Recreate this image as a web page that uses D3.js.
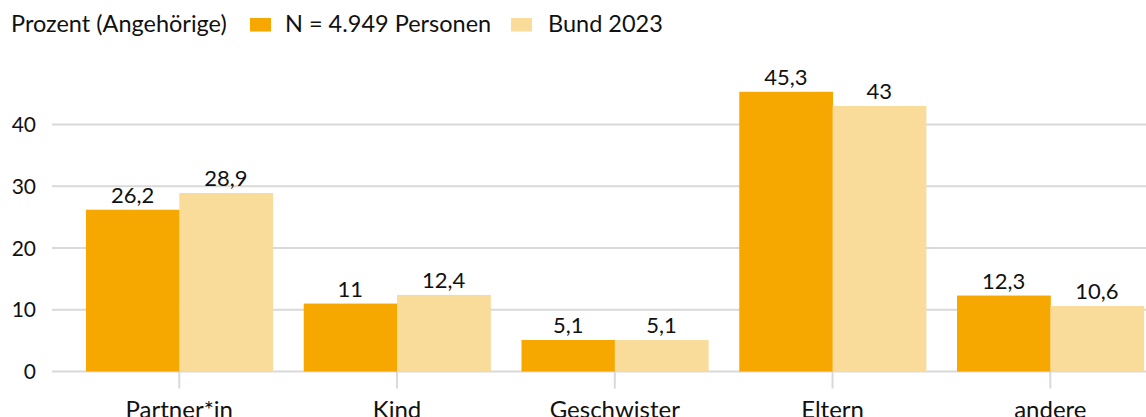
<!DOCTYPE html>
<html>
<head>
<meta charset="utf-8">
<script src="https://cdn.jsdelivr.net/npm/d3@7"></script>
<style>
  body { margin: 0; background: #fff; }
  svg { display: block; font-family: Lato, "Open Sans", sans-serif; }
</style>
</head>
<body>
<div id="container"></div>
<script>
const width = 1146;
const height = 417;

const categories = ["Partner*in", "Kind", "Geschwister", "Eltern", "andere"];
const seriesNames = ["N = 4.949 Personen", "Bund 2023"];
const sample = [26.2, 11, 5.1, 45.3, 12.3];
const bund = [28.9, 12.4, 5.1, 43, 10.6];
const yTicks = [0, 10, 20, 30, 40];
const colors = ["#f7a800", "#f9db9a"];

const svg = d3.select("#container").append("svg")
    .attr("width", width)
    .attr("height", height);

// the plot runs past the right edge, like in the original
const x = d3.scaleBand()
    .domain(categories)
    .range([70.4, 1159.2])
    .paddingInner(0.143)
    .paddingOuter(0.0715);

const xs = d3.scaleBand()
    .domain([0, 1])
    .range([0, x.bandwidth()]);

const y = d3.scaleLinear()
    .domain([0, 40])
    .range([371.5, 124.5]);

// gridlines
svg.append("g")
    .selectAll("line")
    .data(yTicks)
    .join("line")
    .attr("x1", 52)
    .attr("x2", width)
    .attr("y1", d => y(d))
    .attr("y2", d => y(d))
    .attr("stroke", "#d9d9d9")
    .attr("stroke-width", 2);

// y labels
svg.append("g")
    .selectAll("text")
    .data(yTicks)
    .join("text")
    .attr("x", 36)
    .attr("y", d => y(d))
    .attr("dy", "0.36em")
    .attr("text-anchor", "end")
    .attr("font-size", 21)
    .attr("fill", "#111")
    .text(d => d);

// category tick marks
svg.append("g")
    .selectAll("line")
    .data(categories)
    .join("line")
    .attr("x1", d => x(d) + x.bandwidth() / 2)
    .attr("x2", d => x(d) + x.bandwidth() / 2)
    .attr("y1", y(0))
    .attr("y2", y(0) + 17)
    .attr("stroke", "#d9d9d9")
    .attr("stroke-width", 2);

// category labels (cut off at the bottom edge, as in the original)
svg.append("g")
    .selectAll("text")
    .data(categories)
    .join("text")
    .attr("x", d => x(d) + x.bandwidth() / 2)
    .attr("y", 418)
    .attr("text-anchor", "middle")
    .attr("font-size", 24)
    .attr("fill", "#111")
    .text(d => d);

const rows = categories.map((c, i) => ({ cat: c, values: [sample[i], bund[i]] }));

const groups = svg.append("g")
    .selectAll("g")
    .data(rows)
    .join("g")
    .attr("transform", d => `translate(${x(d.cat)},0)`);

groups.selectAll("rect")
    .data(d => d.values.map((v, k) => ({ v, k })))
    .join("rect")
    .attr("x", d => xs(d.k))
    .attr("width", xs.bandwidth() + 0.5)
    .attr("y", d => y(d.v))
    .attr("height", d => y(0) - y(d.v))
    .attr("fill", d => colors[d.k]);

const fmt = v => String(v).replace(".", ",");

groups.selectAll("text")
    .data(d => d.values.map((v, k) => ({ v, k })))
    .join("text")
    .attr("x", d => xs(d.k) + xs.bandwidth() / 2)
    .attr("y", d => y(d.v) - 7)
    .attr("text-anchor", "middle")
    .attr("font-size", 22)
    .attr("fill", "#111")
    .text(d => fmt(d.v));

// header / legend
svg.append("text")
    .attr("x", 11)
    .attr("y", 32)
    .attr("font-size", 23.5)
    .attr("fill", "#111")
    .text("Prozent (Angehörige)");

const legendX = [250, 511];
const legendTextX = [285, 548];
seriesNames.forEach((name, i) => {
    svg.append("rect")
        .attr("x", legendX[i])
        .attr("y", 18)
        .attr("width", 21)
        .attr("height", 13.5)
        .attr("fill", colors[i]);
    svg.append("text")
        .attr("x", legendTextX[i])
        .attr("y", 32)
        .attr("font-size", 23.5)
        .attr("fill", "#111")
        .text(name);
});
</script>
</body>
</html>
